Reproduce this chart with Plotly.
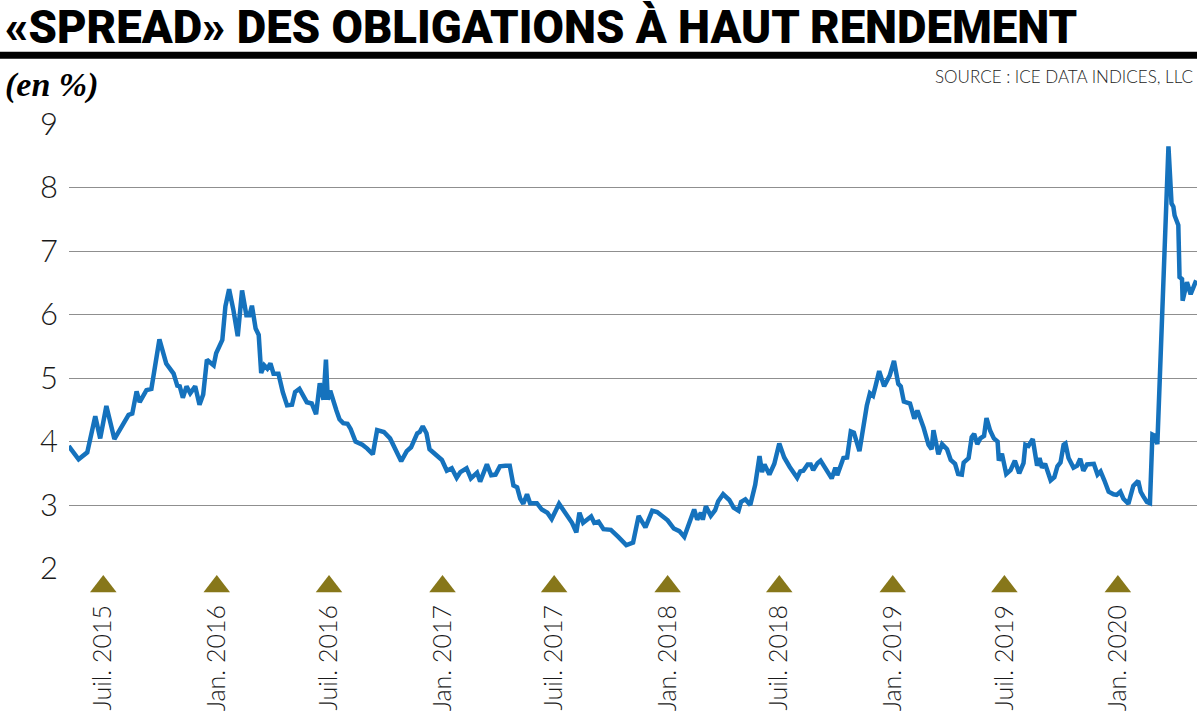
import pandas as pd
import plotly.graph_objects as go

# ---- data ----
start_date = "2015-05-06"
days_since_start = [
    0, 16, 30, 43, 51, 61, 74, 97, 103, 110, 115, 126, 134, 147, 158, 170, 176, 180, 185, 191,
    197, 205, 212, 218, 224, 235, 239, 249, 254, 260, 267, 274, 281, 288, 293, 297, 303, 308, 312, 317,
    322, 327, 332, 340, 347, 354, 362, 367, 374, 386, 394, 401, 407, 413, 417, 420, 424, 429, 434, 439,
    445, 452, 457,
    465, 476, 484, 493, 500, 511, 521, 529, 539, 548, 555, 565, 569, 574, 580, 585, 592, 600, 605, 613,
    621, 629, 635, 645, 652, 662, 667, 678, 685, 692, 699, 708, 715, 721, 727, 732, 737, 743, 748, 759,
    767, 776, 783, 795, 805, 816, 823, 828, 834, 847, 852, 859, 867, 879, 891, 904, 915, 924,
    935, 946, 954, 964, 971, 981, 990, 998, 1006, 1014, 1019, 1025, 1028, 1033, 1041, 1048, 1053, 1061, 1071, 1078,
    1086, 1090, 1097, 1105, 1113, 1120, 1124, 1128, 1136, 1144, 1152, 1160, 1169, 1181, 1186, 1191, 1198, 1203, 1207, 1214,
    1219, 1228, 1237, 1243, 1246, 1256, 1262, 1268, 1273, 1282, 1288, 1294, 1299, 1304, 1308, 1314, 1322, 1331, 1338, 1345,
    1349, 1354, 1364, 1371, 1376, 1386, 1394,
    1399, 1402, 1410, 1416, 1424, 1430, 1437, 1442, 1448, 1451, 1459, 1464, 1468, 1473, 1478, 1484, 1488, 1494, 1500, 1506,
    1508, 1513, 1520, 1527, 1534, 1541, 1548, 1551, 1556, 1563, 1570, 1574, 1578, 1583, 1587, 1592, 1598, 1603, 1608, 1613,
    1616, 1621, 1629, 1635, 1640, 1645, 1651, 1656, 1662, 1668, 1673, 1679, 1686, 1694, 1699, 1705, 1710, 1718, 1726, 1734,
    1738, 1742, 1748, 1753, 1757, 1761, 1765, 1783, 1788, 1791, 1793, 1799, 1801, 1805, 1806, 1813, 1819, 1828,
]
spread_pct = [
    3.93, 3.72, 3.83, 4.40, 4.05, 4.56, 4.04, 4.42, 4.44, 4.79, 4.62, 4.81, 4.83, 5.61, 5.23, 5.07, 4.88, 4.87, 4.69, 4.87,
    4.76, 4.87, 4.58, 4.74, 5.29, 5.20, 5.39, 5.60, 6.13, 6.40, 6.07, 5.66, 6.38, 5.99, 5.99, 6.14, 5.78, 5.68, 5.08, 5.20,
    5.15, 5.23, 5.07, 5.07, 4.78, 4.57, 4.58, 4.78, 4.83, 4.62, 4.60, 4.43, 4.92, 4.66, 5.29, 4.66, 4.80, 4.62, 4.49, 4.35,
    4.29, 4.28, 4.20,
    4.00, 3.95, 3.89, 3.80, 4.18, 4.15, 4.05, 3.87, 3.69, 3.85, 3.91, 4.13, 4.15, 4.24, 4.13, 3.88, 3.82, 3.75, 3.71, 3.54,
    3.58, 3.43, 3.52, 3.58, 3.42, 3.51, 3.37, 3.64, 3.47, 3.48, 3.61, 3.62, 3.62, 3.31, 3.28, 3.10, 3.02, 3.17, 3.03, 3.03,
    2.93, 2.88, 2.78, 3.02, 2.89, 2.72, 2.57, 2.88, 2.72, 2.82, 2.72, 2.74, 2.62, 2.61, 2.50, 2.37, 2.41, 2.83,
    2.65, 2.91, 2.89, 2.81, 2.76, 2.63, 2.59, 2.50, 2.72, 2.93, 2.77, 2.88, 2.77, 2.98, 2.83, 2.92, 3.06, 3.17, 3.08, 2.96,
    2.91, 3.05, 3.09, 3.00, 3.32, 3.77, 3.52, 3.64, 3.48, 3.65, 3.97, 3.75, 3.60, 3.43, 3.53, 3.54, 3.64, 3.64, 3.55, 3.66,
    3.70, 3.55, 3.42, 3.59, 3.47, 3.74, 3.75, 4.16, 4.14, 3.85, 4.25, 4.57, 4.76, 4.72, 4.87, 5.11, 4.87, 5.04, 5.27, 4.91,
    4.87, 4.63, 4.60, 4.36, 4.49, 4.22, 3.95,
    3.88, 4.18, 3.80, 3.96, 3.88, 3.71, 3.65, 3.49, 3.48, 3.67, 3.74, 4.07, 4.12, 3.96, 4.05, 4.09, 4.37, 4.17, 4.05, 4.00,
    3.70, 3.81, 3.49, 3.55, 3.70, 3.50, 3.66, 3.95, 3.93, 4.04, 3.62, 3.74, 3.59, 3.65, 3.52, 3.39, 3.44, 3.61, 3.67, 3.95,
    3.97, 3.74, 3.59, 3.62, 3.73, 3.54, 3.64, 3.64, 3.65, 3.48, 3.53, 3.39, 3.21, 3.17, 3.16, 3.21, 3.10, 3.02, 3.30, 3.38,
    3.21, 3.14, 3.05, 3.03, 4.11, 4.09, 3.96, 8.65, 7.75, 7.70, 7.56, 7.41, 6.59, 6.56, 6.22, 6.51, 6.32, 6.54,
]
tick_dates = ["2015-07-01", "2016-01-01", "2016-07-01", "2017-01-01", "2017-07-01",
              "2018-01-01", "2018-07-01", "2019-01-01", "2019-07-01", "2020-01-01"]
tick_labels = ["Juil. 2015", "Jan. 2016", "Juil. 2016", "Jan. 2017", "Juil. 2017",
               "Jan. 2018", "Juil. 2018", "Jan. 2019", "Juil. 2019", "Jan. 2020"]
y_ticks = [2, 3, 4, 5, 6, 7, 8, 9]

title_text = "«SPREAD» DES OBLIGATIONS À HAUT RENDEMENT"
unit_text = "(en %)"
source_text = "SOURCE : ICE DATA INDICES, LLC"

dates = pd.Timestamp(start_date) + pd.to_timedelta(days_since_start, unit="D")

LINE_BLUE = "#1572bd"
OLIVE = "#87771a"
GRID = "#8f8f8f"
LIGHT = dict(family="Lato", weight=300)

# plot-area geometry (pixels)
TOP, MAIN_BOTTOM, BOTTOM = 124.3, 568.7, 596.0
H = BOTTOM - TOP
split = (BOTTOM - MAIN_BOTTOM) / H

fig = go.Figure()
fig.add_trace(go.Scatter(
    x=dates, y=spread_pct, mode="lines", yaxis="y",
    line=dict(color=LINE_BLUE, width=4.5), hoverinfo="skip", showlegend=False,
))
# olive tick triangles in a thin strip under the chart
fig.add_trace(go.Scatter(
    x=pd.to_datetime(tick_dates), y=[0.35] * len(tick_dates), mode="markers", yaxis="y2",
    marker=dict(symbol="triangle-up", size=23, color=OLIVE, line=dict(width=0)),
    cliponaxis=False, hoverinfo="skip", showlegend=False,
))

fig.update_layout(
    width=1200, height=720,
    margin=dict(l=69, r=3, t=TOP, b=720 - BOTTOM, autoexpand=False),
    paper_bgcolor="white", plot_bgcolor="white",
    title=dict(
        text=title_text, xref="container", yref="container",
        x=5 / 1200, xanchor="left", y=1 - 27 / 720, yanchor="middle",
        font=dict(family="Roboto", size=45.5, color="black", weight=900),
    ),
    xaxis=dict(
        range=["2015-05-06 10:00", "2020-05-08 07:00"], anchor="y2",
        tickmode="array", tickvals=pd.to_datetime(tick_dates), ticktext=tick_labels,
        tickangle=-90, ticks="", showgrid=False, showline=False, zeroline=False,
        ticklabelstandoff=3,
        tickfont=dict(size=25, color="#1a1a1a", **LIGHT),
    ),
    yaxis=dict(
        domain=[split, 1], anchor="x",
        range=[1.998, 9.002], tickmode="array", tickvals=y_ticks,
        ticktext=[str(v) for v in y_ticks],
        showgrid=True, gridcolor=GRID, gridwidth=1.2, zeroline=False, showline=False,
        ticks="", ticklabelstandoff=10,
        tickfont=dict(size=31, color="#1a1a1a", **LIGHT),
    ),
    yaxis2=dict(
        domain=[0, split], anchor="x", range=[0, 1],
        showgrid=False, zeroline=False, showline=False, showticklabels=False, ticks="",
    ),
    shapes=[dict(
        type="line", xref="paper", yref="paper",
        x0=-69 / 1128, x1=1.0, y0=(BOTTOM - 55.5) / H, y1=(BOTTOM - 55.5) / H,
        line=dict(color="black", width=7),
    )],
    annotations=[
        dict(text=unit_text, xref="paper", yref="paper", x=(3 - 69) / 1128, y=(BOTTOM - 85) / H,
             xanchor="left", yanchor="middle", showarrow=False,
             font=dict(family="Liberation Serif", size=34, color="black", weight=700, style="italic")),
        dict(text=source_text, xref="paper", yref="paper", x=(1195 - 69) / 1128, y=(BOTTOM - 77) / H,
             xanchor="right", yanchor="middle", showarrow=False,
             font=dict(size=17, color="#222222", **LIGHT)),
    ],
)

fig.write_html("out.html")
